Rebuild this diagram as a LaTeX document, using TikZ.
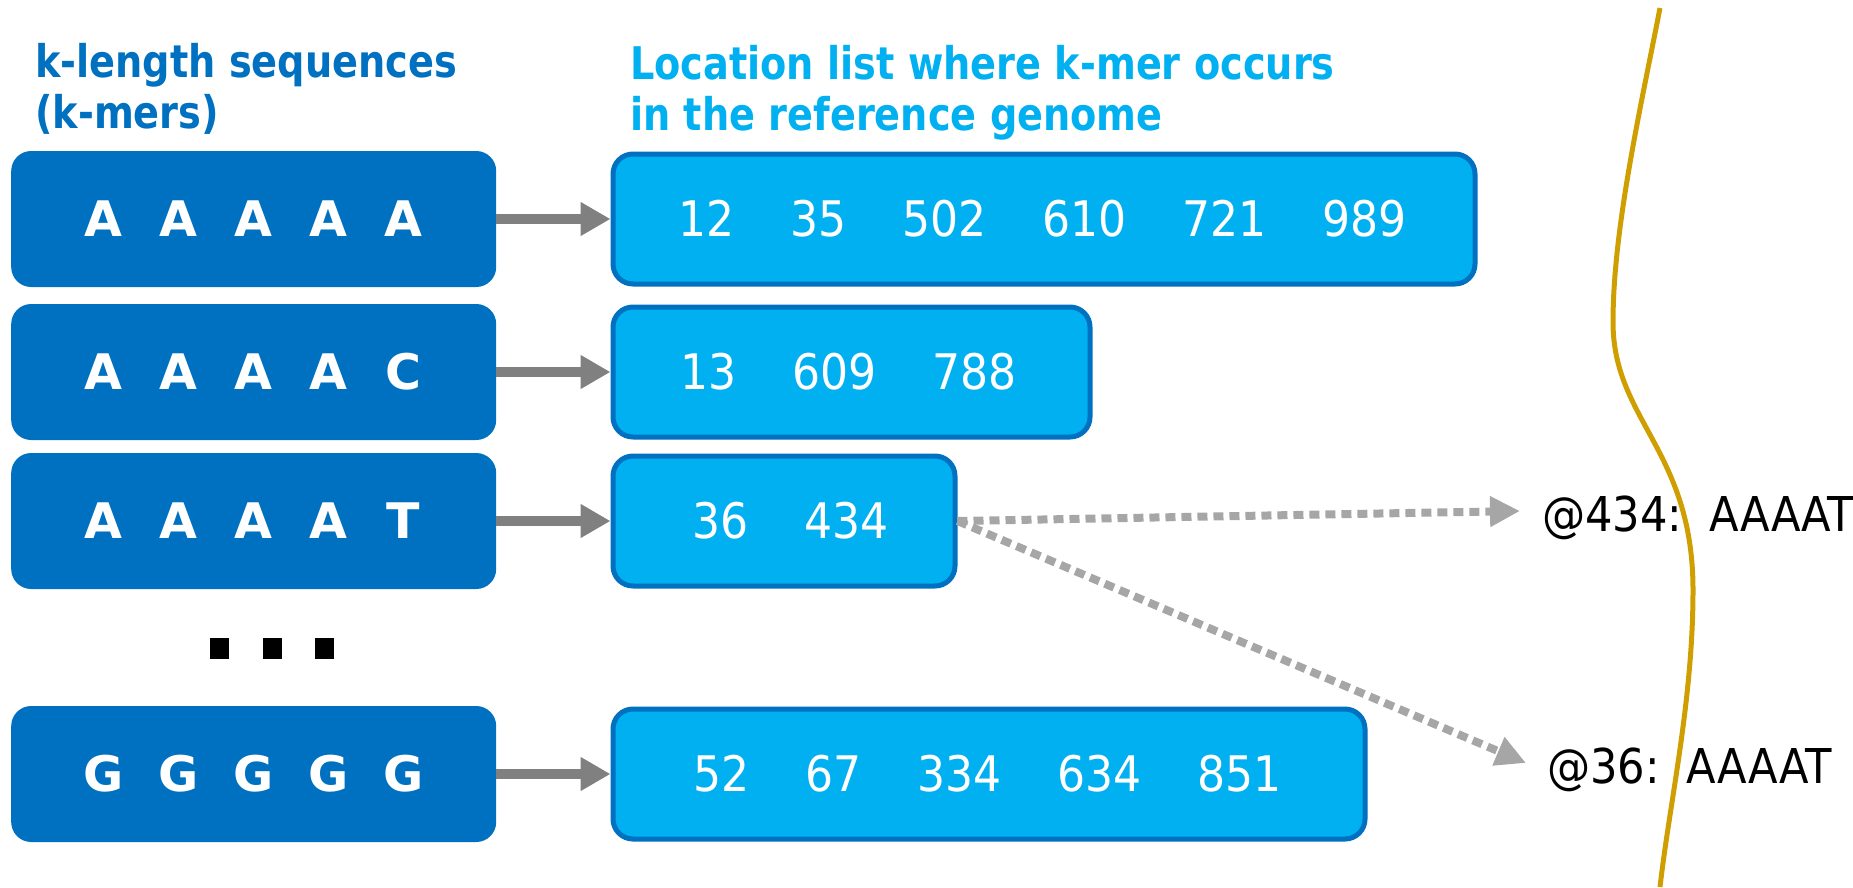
\documentclass[tikz,border=0pt]{standalone}
\usepackage{fontspec}
\setmainfont{DejaVu Sans}
\newfontfamily\condfont{DejaVu Sans Condensed}[BoldFont={DejaVu Sans Condensed Bold}]
\newfontfamily\headfont{DejaVu Sans Condensed Bold}[FakeStretch=0.945]
\usetikzlibrary{arrows.meta}

\definecolor{kblue}{HTML}{0070C0}
\definecolor{lblue}{HTML}{00B0F0}
\definecolor{arrowgray}{HTML}{808080}
\definecolor{dotgray}{HTML}{A6A6A6}
\definecolor{gold}{RGB}{207,158,0}

% one letter per fixed-width slot so the five bases sit evenly in a row
\newcommand\kslot[1]{\makebox[75pt]{#1}}
\newcommand\kmer[5]{\kslot{#1}\kslot{#2}\kslot{#3}\kslot{#4}\kslot{#5}}
\newcommand\numgap{\hspace{56pt}}

\tikzset{
  kbox/.style={fill=kblue, rounded corners=20pt, minimum width=485pt,
    minimum height=136pt, inner sep=0pt, anchor=west, text=white,
    font=\fontsize{49}{49}\selectfont\bfseries},
  lbox/.style={fill=lblue, draw=kblue, line width=5pt, rounded corners=20pt,
    minimum height=130pt, inner sep=0pt, anchor=west},
  nums/.style={text=white, inner sep=0pt, anchor=west,
    font=\condfont\fontsize{49}{49}\selectfont},
  head/.style={inner sep=0pt, anchor=base west, align=left,
    font=\headfont\fontsize{45}{51}\selectfont},
  readlab/.style={inner sep=0pt, anchor=base west, text=black,
    font=\condfont\fontsize{48}{48}\selectfont},
  maparrow/.style={draw=arrowgray, line width=10pt,
    -{Triangle[length=30pt, width=32pt]}},
  hitarrow/.style={draw=dotgray, line width=8pt, dash pattern=on 10pt off 6pt,
    -{Triangle[length=30pt, width=29pt]}},
}

\begin{document}
\begin{tikzpicture}[x=1pt, y=-1pt]
\useasboundingbox (0,0) rectangle (1853,887);

% column headings (placed by the baseline of their last line)
\node[head, text=kblue] (h1) at (35,128) {k-length sequences\\(k-mers)};
\node[head, text=lblue] (h2) at (630,130) {Location list where k-mer occurs\\in the reference genome};

% k-mer keys
\node[kbox] (k1) at (11,219) {\kmer AAAAA};
\node[kbox] (k2) at (11,372) {\kmer AAAAC};
\node[kbox] (k3) at (11,521) {\kmer AAAAT};
\node[kbox] (k4) at (11,774) {\kmer GGGGG};

% elided rows
\node[inner sep=0pt] (dots) at (272,648)
  {\rule{19pt}{21pt}\hspace{33.5pt}\rule{19pt}{21pt}\hspace{33.5pt}\rule{19pt}{21pt}};

% location lists
\node[lbox, minimum width=862pt] (l1) at (610.5,219) {};
\node[lbox, minimum width=477pt] (l2) at (610.5,372) {};
\node[lbox, minimum width=342pt] (l3) at (610.5,521) {};
\node[lbox, minimum width=752pt] (l4) at (610.5,774) {};

\node[nums] (v1) at (678,219) {12\numgap 35\numgap 502\numgap 610\numgap 721\numgap 989};
\node[nums] (v2) at (680,372) {13\numgap 609\numgap 788};
\node[nums] (v3) at (692,521) {36\numgap 434};
\node[nums] (v4) at (693,774) {52\numgap 67\numgap 334\numgap 634\numgap 851};

% key -> list
\draw[maparrow] (k1.east) -- (l1.west);
\draw[maparrow] (k2.east) -- (l2.west);
\draw[maparrow] (k3.east) -- (l3.west);
\draw[maparrow] (k4.east) -- (l4.west);

% reference genome strand
\draw[gold, line width=5pt] (1660,8) .. controls (1640,110) and (1613,230) .. (1613,322)
  .. controls (1613,420) and (1693,450) .. (1693,590)
  .. controls (1693,700) and (1670,800) .. (1660,887);

% hits in the reference
\node[readlab] (r1) at (1542,531) {@434:\hspace{27pt}AAAAT};
\node[readlab] (r2) at (1547,783) {@36:\hspace{27pt}AAAAT};
\coordinate (t1) at (1520,511);
\coordinate (t2) at (1526,763);
\draw[hitarrow] (l3.east) -- (t1);
\draw[hitarrow] (l3.east) -- (t2);
\end{tikzpicture}
\end{document}
